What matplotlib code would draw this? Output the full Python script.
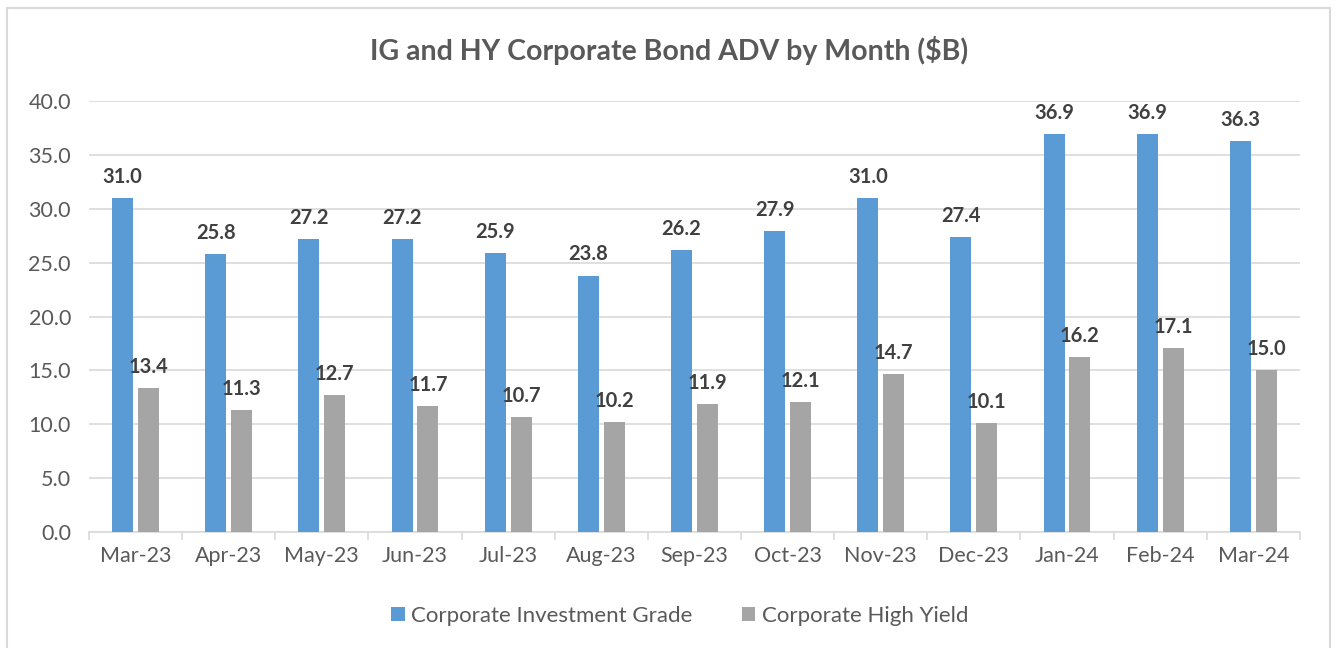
import numpy as np
import matplotlib.pyplot as plt
from matplotlib.patches import Rectangle

months = ["Mar-23", "Apr-23", "May-23", "Jun-23", "Jul-23", "Aug-23", "Sep-23",
          "Oct-23", "Nov-23", "Dec-23", "Jan-24", "Feb-24", "Mar-24"]
ig_adv = [31.0, 25.8, 27.2, 27.2, 25.9, 23.8, 26.2, 27.9, 31.0, 27.4, 36.9, 36.9, 36.3]
hy_adv = [13.4, 11.3, 12.7, 11.7, 10.7, 10.2, 11.9, 12.1, 14.7, 10.1, 16.2, 17.1, 15.0]

plt.rcParams["font.family"] = ["Lato", "DejaVu Sans"]
txt = "#595959"
blue = "#5B9BD5"
gray = "#A5A5A5"

fig = plt.figure(figsize=(13.38, 6.48), dpi=100)
ax = fig.add_axes([0.0665, 0.179, 0.905, 0.665])

x = np.arange(len(months))
w = 0.225
off = 0.139
b1 = ax.bar(x - off, ig_adv, w, color=blue, label="Corporate Investment Grade", zorder=3)
b2 = ax.bar(x + off, hy_adv, w, color=gray, label="Corporate High Yield", zorder=3)

for bars in (b1, b2):
    ax.bar_label(bars, fmt="%.1f", padding=8, fontsize=14.5, fontweight="bold", color="#404040")

ax.set_xlim(-0.5, len(months) - 0.5)
ax.set_ylim(0, 40)
ax.set_yticks(np.arange(0, 40.1, 5))
ax.set_yticklabels([f"{v:.1f}" for v in np.arange(0, 40.1, 5)])
ax.yaxis.grid(True, color="#D9D9D9", linewidth=1.2, zorder=0)
ax.set_xticks(x)
ax.set_xticklabels(months)
ax.set_xticks(np.arange(-0.5, len(months)), minor=True)
ax.tick_params(axis="x", which="major", length=0, pad=10, labelsize=15.5, labelcolor=txt)
ax.tick_params(axis="x", which="minor", length=6, color="#D9D9D9", width=1.2)
ax.tick_params(axis="y", length=0, pad=13, labelsize=15.5, labelcolor=txt)
for s in ("top", "right", "left"):
    ax.spines[s].set_visible(False)
ax.spines["bottom"].set_color("#D9D9D9")
ax.spines["bottom"].set_linewidth(1.2)

fig.text(0.5, 0.922, "IG and HY Corporate Bond ADV by Month ($B)", ha="center", va="center",
         fontsize=20.5, fontweight="bold", color=txt)

fig.legend(handles=[b1, b2], loc="center", bbox_to_anchor=(0.508, 0.05), ncol=2, frameon=False,
           fontsize=16, labelcolor=txt, handlelength=0.6, handleheight=0.6, handletextpad=0.3,
           columnspacing=2.2)

fig.patches.append(Rectangle((7 / 1338, -0.01), 1323 / 1338, 1 - 8 / 648 + 0.01,
                             transform=fig.transFigure, fill=False, edgecolor="#D9D9D9",
                             linewidth=1.5))

fig.savefig("out.png", dpi=100)
